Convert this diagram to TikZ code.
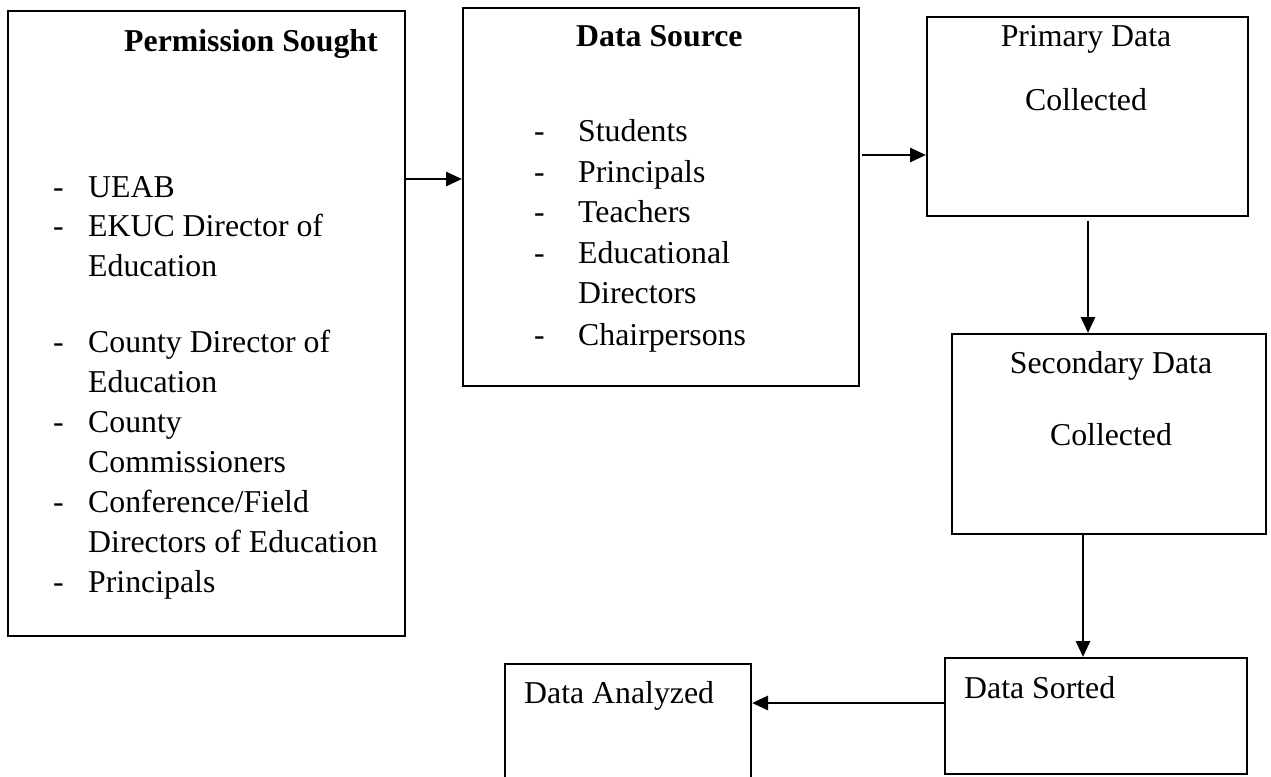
\documentclass[tikz,border=0pt]{standalone}
\usepackage{fontspec}
\setmainfont{Liberation Serif}
\usetikzlibrary{arrows.meta}

\tikzset{
  box/.style={draw, line width=2pt, inner sep=0pt, anchor=north west},
  txt/.style={anchor=base west, inner sep=0pt},
  mid/.style={anchor=base, inner sep=0pt},
  flow/.style={line width=2.8pt, -{Triangle[length=16pt,width=14pt]}}
}
\newcommand{\bul}{\makebox[35pt][l]{-}}
\newcommand{\bulw}{\makebox[44pt][l]{-}}

\begin{document}
\begin{tikzpicture}[x=1pt, y=-1pt, font=\fontsize{31.8}{40}\selectfont]
  \clip (0,0) rectangle (1271,776);

  % Draw boxes
  \node[box, minimum width=397pt, minimum height=625pt] (perm) at (7,10) {};
  \node[box, minimum width=396pt, minimum height=378pt] (src) at (462,7) {};
  \node[box, minimum width=321pt, minimum height=199pt] (prim) at (926,16) {};
  \node[box, minimum width=314pt, minimum height=200pt] (sec) at (951,333) {};
  \node[box, minimum width=302pt, minimum height=116pt] (sort) at (944,657) {};
  \node[box, minimum width=246pt, minimum height=140pt] (anl) at (504,663) {};

  % Permission sought
  \node[txt, font=\fontsize{31.8}{40}\selectfont\bfseries] (permT) at (124,52) {Permission Sought};
  \node[txt] (p1) at (53,197) {\bul UEAB};
  \node[txt] (p2) at (53,236) {\bul EKUC Director of};
  \node[txt] (p2b) at (88,276) {Education};
  \node[txt] (p3) at (53,352) {\bul County Director of};
  \node[txt] (p3b) at (88,392) {Education};
  \node[txt] (p4) at (53,432) {\bul County};
  \node[txt] (p4b) at (88,472) {Commissioners};
  \node[txt] (p5) at (53,512) {\bul Conference/Field};
  \node[txt] (p5b) at (88,552) {Directors of Education};
  \node[txt] (p6) at (53,592) {\bul Principals};

  % Data source
  \node[txt, font=\fontsize{31.8}{40}\selectfont\bfseries] (srcT) at (576,47) {Data Source};
  \node[txt] (s1) at (534,141) {\bulw Students};
  \node[txt] (s2) at (534,182) {\bulw Principals};
  \node[txt] (s3) at (534,222) {\bulw Teachers};
  \node[txt] (s4) at (534,263) {\bulw Educational};
  \node[txt] (s4b) at (578,303) {Directors};
  \node[txt] (s5) at (534,345) {\bulw Chairpersons};

  % Collection and processing steps
  \node[mid] (primT) at (1086,47) {Primary Data};
  \node[mid] (primC) at (1086,110) {Collected};
  \node[mid] (secT) at (1111,373) {Secondary Data};
  \node[mid] (secC) at (1111,445) {Collected};
  \node[txt] (sortT) at (964,698) {Data Sorted};
  \node[txt] (anlT) at (524,703) {Data Analyzed};

  % Arrows
  \draw[flow] ([yshift=-169pt]perm.north east) coordinate (a1) -- (a1 -| src.west);
  \draw[flow] ([xshift=2pt,yshift=-148pt]src.north east) coordinate (a2) -- (a2 -| prim.west);
  \draw[flow] ([xshift=162pt,yshift=-4pt]prim.south west) coordinate (a3) -- (a3 |- sec.north);
  \draw[flow] ([xshift=132pt]sec.south west) coordinate (a4) -- (a4 |- sort.north);
  \draw[flow] ([yshift=-46pt]sort.north west) coordinate (a5) -- (a5 -| anl.east);
\end{tikzpicture}
\end{document}
